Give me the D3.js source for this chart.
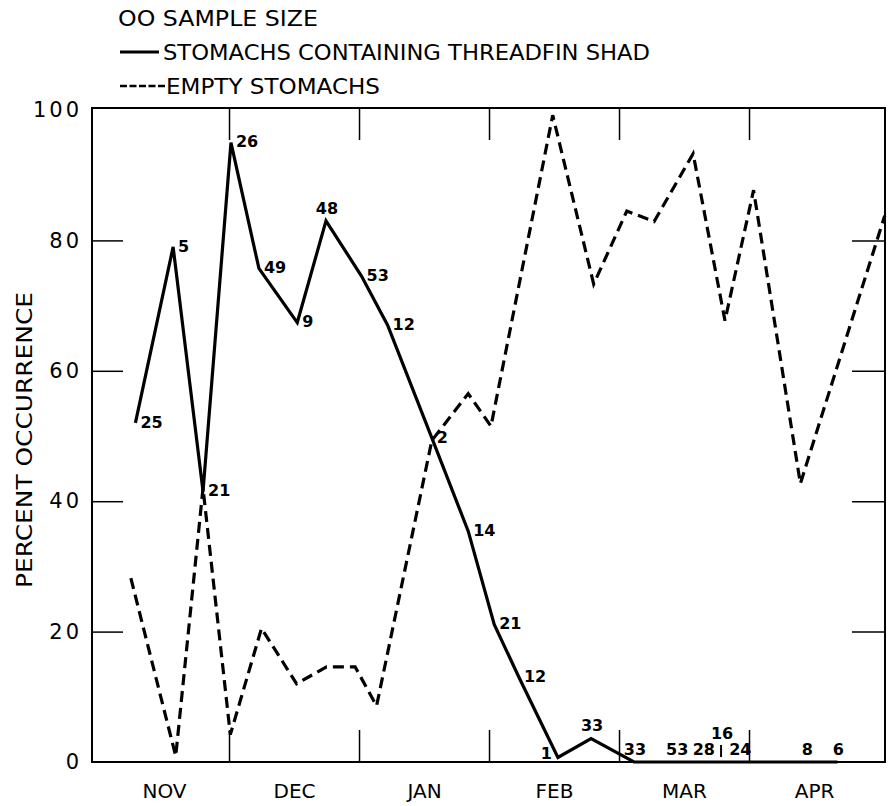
<!DOCTYPE html>
<html>
<head>
<meta charset="utf-8">
<script src="https://cdn.jsdelivr.net/npm/d3@7"></script>
<style>
body { margin: 0; background: #fff; }
svg text { font-family: "DejaVu Sans", sans-serif; fill: #000; }
.axis path.domain { display: none; }
.axis line { stroke: #000; stroke-width: 1.5; }
</style>
</head>
<body>
<div class="chart"></div>
<script>
// x is measured in months from 1 Nov (0 = Nov 1, 1 = Dec 1, ...)
var months = ["NOV", "DEC", "JAN", "FEB", "MAR", "APR"];
var yTicks = [0, 20, 40, 60, 80, 100];

// stomachs containing threadfin shad
var shadDates = [0.28, 0.57, 0.80, 1.015, 1.23, 1.525, 1.746, 2.02, 2.22, 2.56, 2.84, 3.04, 3.23, 3.53, 3.785,
                 4.115, 4.44, 4.645, 4.785, 4.925, 5.44, 5.68];
var shadPct = [52, 79, 41.5, 95, 75.7, 67.4, 83, 74.5, 67, 49.7, 35.4, 21.1, 13, 0.7, 3.6,
               0, 0, 0, 0, 0, 0, 0];
var sampleSize = ["25", "5", "21", "26", "49", "9", "48", "53", "12", "2", "14", "21", "12", "1", "33",
                  "33", "53", "28", "16", "24", "8", "6"];

// empty stomachs
var emptyDates = [0.245, 0.59, 0.80, 1.01, 1.25, 1.52, 1.75, 1.97, 2.135, 2.56, 2.84, 3.015, 3.49, 3.805,
                  4.06, 4.27, 4.57, 4.815, 5.035, 5.395, 6.044];
var emptyPct = [28.2, 0.9, 42, 4.2, 20.5, 12, 14.6, 14.6, 8.6, 49.3, 56.5, 51.5, 99.2, 73.3,
                84.5, 82.9, 93.3, 67.7, 87.7, 42.7, 83.8];

var svgWidth = 892;
var svgHeight = 806;
var margin = { top: 110, right: 7, bottom: 44, left: 92 };
var width = svgWidth - margin.left - margin.right;
var height = svgHeight - margin.top - margin.bottom;

var root = d3.select(".chart")
    .append("svg")
    .attr("width", svgWidth)
    .attr("height", svgHeight);

var chart = root.append("g")
    .attr("transform", "translate(" + margin.left + "," + margin.top + ")");

var x = d3.scaleLinear().domain([-0.054, 6.046]).range([0, width]);
var y = d3.scaleLinear().domain([0, 100]).range([height, 0]);

var shadData = shadDates.map(function(d, i) {
    return { m: d, v: shadPct[i], n: sampleSize[i] };
});
var emptyData = emptyDates.map(function(d, i) {
    return { m: d, v: emptyPct[i] };
});

// frame
chart.append("rect")
    .attr("x", 0)
    .attr("y", -2)
    .attr("width", width)
    .attr("height", height + 2)
    .attr("fill", "none")
    .attr("stroke", "#000")
    .attr("stroke-width", 2);

// axes
var leftAxis = chart.append("g")
    .attr("class", "axis")
    .call(d3.axisLeft(y).tickValues(yTicks).tickSize(-31).tickPadding(10));
leftAxis.selectAll(".tick line").filter(function(d) { return d === 0 || d === 100; }).remove();
leftAxis.selectAll("text")
    .style("font-size", "21px")
    .style("letter-spacing", "3px");

chart.append("g")
    .attr("class", "axis")
    .attr("transform", "translate(" + width + ",0)")
    .call(d3.axisRight(y).tickValues([20, 40, 60, 80]).tickSize(-33).tickFormat(""));

chart.append("g")
    .attr("class", "axis")
    .attr("transform", "translate(0," + height + ")")
    .call(d3.axisBottom(x).tickValues([1, 2, 3, 4, 5]).tickSize(-32).tickFormat(""));

chart.append("g")
    .attr("class", "axis")
    .attr("transform", "translate(0,-2)")
    .call(d3.axisTop(x).tickValues([1, 2, 3, 4, 5]).tickSize(-32).tickFormat(""));

var monthAxis = chart.append("g")
    .attr("class", "axis")
    .attr("transform", "translate(0," + height + ")")
    .call(d3.axisBottom(x)
        .tickValues(months.map(function(d, i) { return i + 0.5; }))
        .tickSize(0)
        .tickPadding(22)
        .tickFormat(function(d, i) { return months[i]; }));
monthAxis.selectAll("text").style("font-size", "20px");

// lines
var line = d3.line()
    .x(function(d) { return x(d.m); })
    .y(function(d) { return y(d.v); });

chart.append("path")
    .datum(emptyData)
    .attr("d", line)
    .attr("fill", "none")
    .attr("stroke", "#000")
    .attr("stroke-width", 3.2)
    .attr("stroke-dasharray", "11,6");

chart.append("path")
    .datum(shadData)
    .attr("d", line)
    .attr("fill", "none")
    .attr("stroke", "#000")
    .attr("stroke-width", 3.2);

// sample size labels
var labelSide = ["r", "r", "r", "r", "r", "r", "t", "r", "r", "r", "r", "r", "r", "l", "t",
                 "t", "t", "t", "tt", "t", "t", "t"];
var sideOpts = {
    r:  { dx: 5, cy: -1, anchor: "start" },
    l:  { dx: -6, cy: -4, anchor: "end" },
    t:  { dx: 1, cy: -13, anchor: "middle" },
    tt: { dx: 1, cy: -29, anchor: "middle" }
};

chart.selectAll(".n-label")
    .data(shadData)
    .enter()
    .append("text")
    .attr("class", "n-label")
    .attr("x", function(d, i) { return x(d.m) + sideOpts[labelSide[i]].dx; })
    .attr("y", function(d, i) { return y(d.v) + sideOpts[labelSide[i]].cy; })
    .attr("dy", "0.36em")
    .attr("text-anchor", function(d, i) { return sideOpts[labelSide[i]].anchor; })
    .style("font-size", "16px")
    .style("font-weight", "bold")
    .text(function(d) { return d.n; });

// small pointer under the raised label
chart.selectAll(".n-tick")
    .data(shadData.filter(function(d, i) { return labelSide[i] === "tt"; }))
    .enter()
    .append("line")
    .attr("x1", function(d) { return x(d.m); })
    .attr("x2", function(d) { return x(d.m); })
    .attr("y1", function(d) { return y(d.v) - 17; })
    .attr("y2", function(d) { return y(d.v) - 5; })
    .attr("stroke", "#000")
    .attr("stroke-width", 2);

// y title
root.append("text")
    .attr("transform", "translate(32,440) rotate(-90)")
    .attr("text-anchor", "middle")
    .attr("textLength", 296)
    .attr("lengthAdjust", "spacingAndGlyphs")
    .style("font-size", "21px")
    .text("PERCENT OCCURRENCE");

// legend
var legend = root.append("g");

legend.append("text")
    .attr("x", 118)
    .attr("y", 26)
    .attr("textLength", 200)
    .attr("lengthAdjust", "spacingAndGlyphs")
    .style("font-size", "22px")
    .text("OO SAMPLE SIZE");

legend.append("line")
    .attr("x1", 120).attr("x2", 159)
    .attr("y1", 52).attr("y2", 52)
    .attr("stroke", "#000")
    .attr("stroke-width", 3);

legend.append("text")
    .attr("x", 163)
    .attr("y", 60)
    .attr("textLength", 487)
    .attr("lengthAdjust", "spacingAndGlyphs")
    .style("font-size", "22px")
    .text("STOMACHS CONTAINING THREADFIN SHAD");

legend.append("line")
    .attr("x1", 120).attr("x2", 165)
    .attr("y1", 86).attr("y2", 86)
    .attr("stroke", "#000")
    .attr("stroke-width", 2.5)
    .attr("stroke-dasharray", "7,2.5");

legend.append("text")
    .attr("x", 166)
    .attr("y", 94)
    .attr("textLength", 214)
    .attr("lengthAdjust", "spacingAndGlyphs")
    .style("font-size", "22px")
    .text("EMPTY  STOMACHS");
</script>
</body>
</html>
